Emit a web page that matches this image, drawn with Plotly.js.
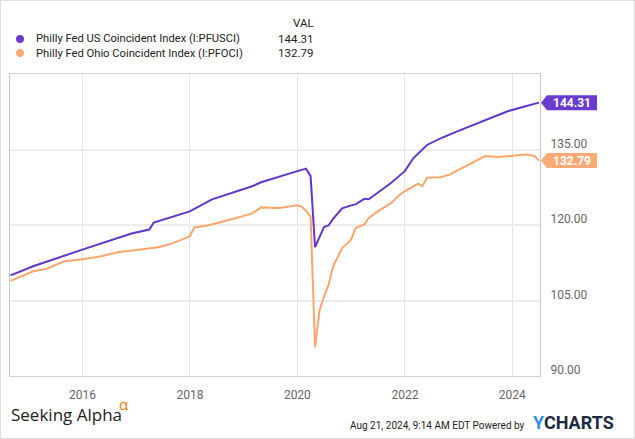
<!DOCTYPE html>
<html>
<head>
<meta charset="utf-8">
<script src="https://cdn.plot.ly/plotly-3.0.1.min.js"></script>
<style>
html,body{margin:0;padding:0;background:#fff;}
#wrap{position:relative;width:635px;height:439px;}
#chart{width:635px;height:439px;}
#frame{position:absolute;left:0;top:0;width:635px;height:439px;box-sizing:border-box;border:1px solid #dedede;pointer-events:none;}
</style>
</head>
<body>
<div id="wrap"><div id="chart"></div><div id="frame"></div></div>
<script>
// ---- data ----
var seriesNames = ["Philly Fed US Coincident Index (I:PFUSCI)", "Philly Fed Ohio Coincident Index (I:PFOCI)"];
var lastValues = [144.31, 132.79];

var usDates = ['2014-08-31','2015-01-31','2015-12-31','2016-11-30','2017-03-31','2017-04-30','2017-12-31',
  '2018-05-31','2019-02-28','2019-04-30','2019-12-31','2020-02-29','2020-03-31','2020-04-30','2020-06-30',
  '2020-07-31','2020-08-31','2020-10-31','2020-12-31','2021-01-31','2021-03-31','2021-04-30','2021-06-30',
  '2021-09-30','2021-12-31','2022-01-31','2022-02-28','2022-05-31','2022-08-31','2022-12-31','2023-04-30',
  '2023-07-31','2023-11-30','2024-03-31','2024-06-30'];
var usValues = [110.0,111.8,115.1,118.3,119.1,120.5,122.7,
  125.1,127.7,128.5,130.7,131.2,129.7,115.6,119.6,
  119.9,121.2,123.3,123.9,124.1,125.2,125.1,126.4,
  128.4,130.7,132.0,133.3,135.9,137.2,138.7,140.1,
  141.3,142.6,143.6,144.31];

var ohDates = ['2014-08-31','2015-01-31','2015-04-30','2015-08-31','2015-12-31','2016-04-30','2016-08-31',
  '2017-01-31','2017-05-31','2017-08-31','2017-12-31','2018-01-31','2018-04-30','2018-10-31','2019-02-28',
  '2019-04-30','2019-08-31','2019-12-31','2020-01-31','2020-02-29','2020-03-31','2020-04-30','2020-05-31',
  '2020-06-30','2020-07-31','2020-08-31','2020-10-31','2020-12-31','2021-01-31','2021-03-31','2021-04-30',
  '2021-06-30','2021-09-30','2021-11-30','2021-12-31','2022-03-31','2022-04-30','2022-05-31','2022-08-31',
  '2022-10-31','2023-01-31','2023-04-30','2023-06-30','2023-09-30','2023-12-31','2024-03-31','2024-05-31',
  '2024-06-30'];
var ohValues = [108.9,110.8,111.25,112.8,113.2,113.75,114.6,
  115.1,115.6,116.3,117.75,119.5,119.9,121.3,122.3,
  123.5,123.4,123.9,123.6,122.8,121.6,95.7,103.1,
  105.8,108.1,111.8,115.4,117.1,119.4,120.1,121.4,
  122.7,124.4,126.1,126.7,128.2,127.7,129.4,129.5,
  130.0,131.4,132.8,133.7,133.5,133.8,134.0,133.7,
  132.79];

var yTickVals = [90, 105, 120, 135];
var yTickText = ['90.00', '105.00', '120.00', '135.00'];
var xTickVals = ['2016-01-01','2018-01-01','2020-01-01','2022-01-01','2024-01-01'];
var xTickText = ['2016','2018','2020','2022','2024'];

var colors = ['#6236c9', '#fda66c'];
var boxColors = ['#6a3bd0', '#fdab76'];
var yMin = 90, yMax = 150;

// ---- chart ----
var traces = [
  {x: usDates, y: usValues, type: 'scatter', mode: 'lines', name: seriesNames[0],
   line: {color: colors[0], width: 2}, hoverinfo: 'skip'},
  {x: ohDates, y: ohValues, type: 'scatter', mode: 'lines', name: seriesNames[1],
   line: {color: colors[1], width: 2}, hoverinfo: 'skip'}
];

function py(v){ return (v - yMin) / (yMax - yMin); }

var font = 'Roboto, "Noto Sans", sans-serif';
var shapes = [];
var annotations = [];

// legend
var rowY = [1.1159, 1.0695];
for (var i = 0; i < 2; i++) {
  shapes.push({type: 'circle', xref: 'paper', yref: 'paper', xsizemode: 'pixel', ysizemode: 'pixel',
    xanchor: 0.0189, yanchor: rowY[i], x0: -4, x1: 4, y0: -4, y1: 4,
    fillcolor: boxColors[i], line: {width: 0}});
  annotations.push({xref: 'paper', yref: 'paper', x: 0.0453, y: rowY[i], xanchor: 'left', yanchor: 'middle',
    text: seriesNames[i], showarrow: false, font: {family: font, size: 11.2, color: '#222'}});
  annotations.push({xref: 'paper', yref: 'paper', x: 0.5755, y: rowY[i], xanchor: 'right', yanchor: 'middle',
    text: lastValues[i].toFixed(2), showarrow: false, font: {family: font, size: 11.5, color: '#222'}});
  // value flag on right axis
  shapes.push({type: 'path', xref: 'paper', yref: 'paper', xsizemode: 'pixel', ysizemode: 'pixel',
    xanchor: 1, yanchor: py(lastValues[i]),
    path: 'M 1 0 L 7 -7.5 L 57 -7.5 L 57 7.5 L 7 7.5 Z',
    fillcolor: boxColors[i], line: {width: 0}});
  annotations.push({xref: 'paper', yref: 'paper', x: 1, xshift: 32, y: py(lastValues[i]), xanchor: 'center', yanchor: 'middle',
    text: '<b>' + lastValues[i].toFixed(2) + '</b>', showarrow: false, font: {family: font, size: 12, color: '#fff'}});
}
annotations.push({xref: 'paper', yref: 'paper', x: 0.5775, y: 1.1689, xanchor: 'right', yanchor: 'middle',
  text: 'VAL', showarrow: false, font: {family: font, size: 11.5, color: '#222'}});

// footer
annotations.push({xref: 'paper', yref: 'paper', x: 0, xshift: -1, y: -0.1291, xanchor: 'left', yanchor: 'middle',
  text: 'Seeking Alpha', showarrow: false,
  font: {family: '"Open Sans", sans-serif', size: 17, color: '#222'}});
annotations.push({xref: 'paper', yref: 'paper', x: 0.2150, y: -0.0930, xanchor: 'center', yanchor: 'middle',
  text: 'α', showarrow: false,
  font: {family: '"Open Sans", sans-serif', size: 15, color: '#ff7a00'}});
annotations.push({xref: 'paper', yref: 'paper', x: 0.9755, y: -0.1623, xanchor: 'right', yanchor: 'middle',
  text: 'Aug 21, 2024, 9:14 AM EDT Powered by', showarrow: false,
  font: {family: font, size: 10, color: '#222'}});
annotations.push({xref: 'paper', yref: 'paper', x: 0.983, y: -0.1556, xanchor: 'left', yanchor: 'middle',
  text: '<b><span style="color:#2f8ff0">Y</span>CHARTS</b>', showarrow: false,
  font: {family: font, size: 18, color: '#1b2b40'}});

var layout = {
  width: 635, height: 439,
  margin: {l: 10, r: 95, t: 74, b: 63},
  paper_bgcolor: '#fff', plot_bgcolor: '#fff',
  showlegend: false,
  xaxis: {type: 'date', range: ['2014-08-27', '2024-07-07'],
    tickvals: xTickVals, ticktext: xTickText,
    showgrid: true, gridcolor: '#e6e6e6', gridwidth: 1,
    showline: true, linecolor: '#d0d0d0', linewidth: 1, mirror: true,
    ticks: '', zeroline: false, ticklabelstandoff: 8,
    tickfont: {family: font, size: 12, color: '#666'}},
  yaxis: {range: [yMin, yMax], side: 'right',
    tickvals: yTickVals, ticktext: yTickText,
    showgrid: true, gridcolor: '#ececec', gridwidth: 2,
    showline: true, linecolor: '#c8c8c8', linewidth: 1, mirror: true,
    ticks: '', zeroline: false, ticklabelstandoff: 7, ticklabelshift: -6,
    tickfont: {family: font, size: 12, color: '#666'}},
  shapes: shapes,
  annotations: annotations
};

Plotly.newPlot('chart', traces, layout, {staticPlot: true, displayModeBar: false});
</script>
</body>
</html>
